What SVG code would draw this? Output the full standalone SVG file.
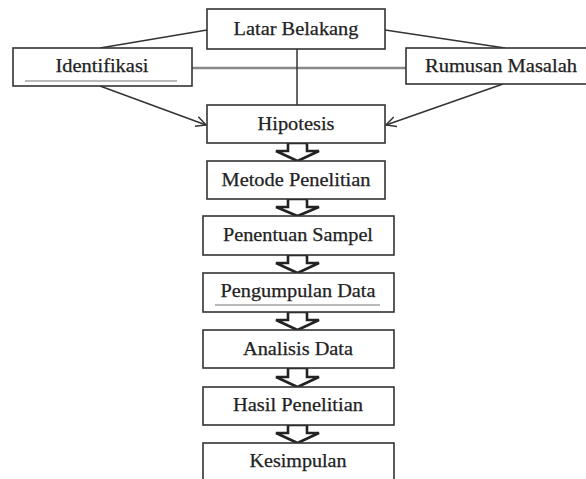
<svg xmlns="http://www.w3.org/2000/svg" width="586" height="479" viewBox="0 0 586 479">
<style>
.box{fill:#fff;stroke:#333;stroke-width:1.6}
.t{font-family:'Liberation Serif','DejaVu Serif',serif;font-size:19px;fill:#222;text-anchor:middle;stroke:#222;stroke-width:0.25}
.ln{stroke:#333;stroke-width:1.5;fill:none}
.gl{stroke:#888;stroke-width:2.5;fill:none}
.bar{fill:#fff;stroke:#222;stroke-width:2.6;stroke-linejoin:miter}
.ul{stroke:#777;stroke-width:1.2;fill:none}
</style>
<defs>
<marker id="ah" markerWidth="12" markerHeight="12" refX="10" refY="6" orient="auto" markerUnits="userSpaceOnUse">
<path d="M0,1 L10,6 L0,11" fill="none" stroke="#333" stroke-width="1.5"/>
</marker>
</defs>
<rect width="586" height="479" fill="#fff"/>
<g id="connectors">
<line class="gl" x1="192" y1="68" x2="406" y2="68"/>
<line class="ln" x1="297" y1="49" x2="297" y2="105"/>
<line class="ln" x1="207" y1="30" x2="100" y2="48"/>
<line class="ln" x1="385" y1="30" x2="505" y2="48"/>
<line class="ln" x1="100" y1="86" x2="206" y2="125" marker-end="url(#ah)"/>
<line class="ln" x1="503" y1="84" x2="386" y2="125" marker-end="url(#ah)"/>
<polygon class="bar" points="288,143 307,143 307,151 319,151 297.5,161 276,151 288,151"/>
<polygon class="bar" points="288,199 307,199 307,207 319,207 297.5,216 276,207 288,207"/>
<polygon class="bar" points="288,255 307,255 307,263 319,263 297.5,273 276,263 288,263"/>
<polygon class="bar" points="288,312 307,312 307,320 319,320 297.5,330 276,320 288,320"/>
<polygon class="bar" points="288,368 307,368 307,377 319,377 297.5,387 276,377 288,377"/>
<polygon class="bar" points="288,425 307,425 307,433 319,433 297.5,443 276,433 288,433"/>
</g>
<g id="latar-belakang">
<rect class="box" x="207" y="9" width="178" height="40"/>
<text class="t" x="296" y="35" textLength="125" lengthAdjust="spacingAndGlyphs">Latar Belakang</text>
</g>
<g id="identifikasi">
<rect class="box" x="13" y="48" width="179" height="38"/>
<text class="t" x="102" y="72" textLength="93" lengthAdjust="spacingAndGlyphs">Identifikasi</text>
<line class="ul" x1="25" y1="81" x2="177" y2="81"/>
</g>
<g id="rumusan-masalah">
<rect class="box" x="406" y="48" width="190" height="36"/>
<text class="t" x="501" y="72" textLength="152" lengthAdjust="spacingAndGlyphs">Rumusan Masalah</text>
</g>
<g id="hipotesis">
<rect class="box" x="207" y="105" width="178" height="38"/>
<text class="t" x="296" y="130" textLength="77" lengthAdjust="spacingAndGlyphs">Hipotesis</text>
</g>
<g id="metode-penelitian">
<rect class="box" x="207" y="161" width="178" height="38"/>
<text class="t" x="296" y="186" textLength="149" lengthAdjust="spacingAndGlyphs">Metode Penelitian</text>
</g>
<g id="penentuan-sampel">
<rect class="box" x="203" y="216" width="191" height="39"/>
<text class="t" x="298" y="241" textLength="150" lengthAdjust="spacingAndGlyphs">Penentuan Sampel</text>
</g>
<g id="pengumpulan-data">
<rect class="box" x="203" y="273" width="191" height="39"/>
<text class="t" x="298" y="297" textLength="155" lengthAdjust="spacingAndGlyphs">Pengumpulan Data</text>
<line class="ul" x1="215" y1="305" x2="380" y2="305"/>
</g>
<g id="analisis-data">
<rect class="box" x="203" y="330" width="191" height="38"/>
<text class="t" x="298" y="355" textLength="110" lengthAdjust="spacingAndGlyphs">Analisis Data</text>
</g>
<g id="hasil-penelitian">
<rect class="box" x="203" y="387" width="191" height="38"/>
<text class="t" x="298" y="411" textLength="130" lengthAdjust="spacingAndGlyphs">Hasil Penelitian</text>
</g>
<g id="kesimpulan">
<rect class="box" x="203" y="443" width="191" height="50"/>
<text class="t" x="298" y="467" textLength="97" lengthAdjust="spacingAndGlyphs">Kesimpulan</text>
</g>
</svg>
